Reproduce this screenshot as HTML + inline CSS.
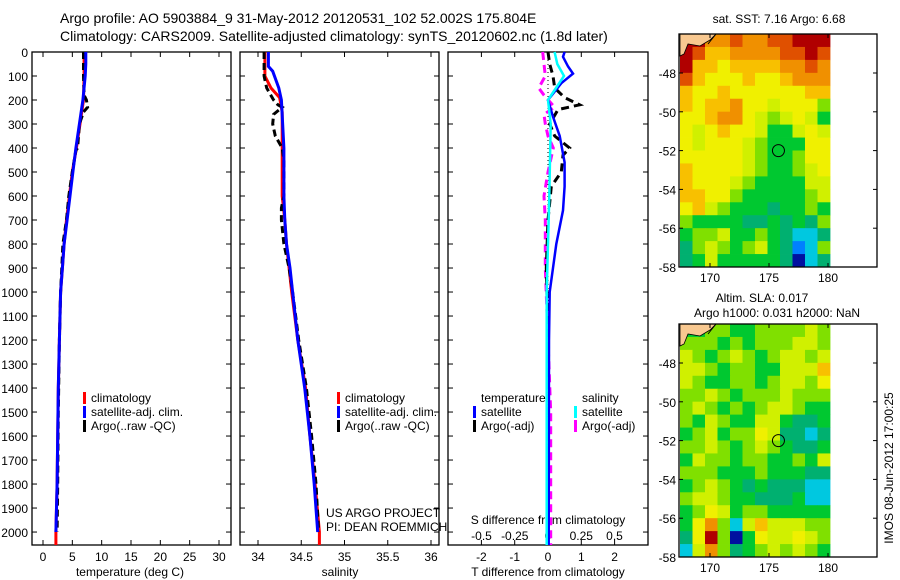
<!DOCTYPE html>
<html><head><meta charset="utf-8"><style>
html,body{margin:0;padding:0;background:#fff;}
svg{display:block;font-family:"Liberation Sans",sans-serif;}
</style></head><body>
<svg id="fig" width="900" height="580" viewBox="0 0 900 580">
<text x="60" y="23" font-size="14">Argo profile: AO 5903884_9 31-May-2012 20120531_102 52.002S 175.804E</text>
<text x="60" y="41" font-size="14">Climatology: CARS2009. Satellite-adjusted climatology: synTS_20120602.nc (1.8d later)</text>
</svg>
<script>
// ---------- data ----------
const tempClimDepth=[0,100,200,300,400,500,600,700,800,900,1000,1200,1400,1600,1800,2000,2054];
const tempClim=[7.0,7.0,6.9,6.3,5.7,5.0,4.5,4.0,3.6,3.3,3.0,2.8,2.6,2.5,2.4,2.2,2.2];
const tempSatDepth=[0,50,100,200,300,400,500,600,700,800,900,1000,1200,1400,1600,1800,2000];
const tempSat=[7.3,7.3,7.2,6.8,6.2,5.6,5.1,4.6,4.1,3.6,3.3,3.0,2.8,2.6,2.5,2.4,2.2];
const tempArgoDepth=[0,100,180,200,230,250,300,400,410,500,600,700,800,900,1000,1200,1500,1800,2000];
const tempArgo=[6.9,6.9,7.0,7.4,7.6,6.9,6.2,5.9,5.6,5.0,4.4,4.0,3.4,3.2,3.0,2.8,2.6,2.5,2.4];
const salClimDepth=[0,100,150,190,250,400,600,700,800,900,1000,1200,1400,1600,1800,2000,2054];
const salClim=[34.08,34.08,34.15,34.25,34.28,34.28,34.28,34.31,34.33,34.36,34.39,34.46,34.55,34.60,34.66,34.71,34.71];
const salSatDepth=[0,60,80,150,200,400,600,700,800,900,1000,1200,1400,1600,1800,2000];
const salSat=[34.12,34.12,34.17,34.24,34.27,34.30,34.30,34.31,34.33,34.37,34.40,34.46,34.54,34.60,34.65,34.69];
const salArgoDepth=[0,100,150,200,220,230,260,300,350,400,450,600,650,700,800,900,1000,1200,1400,1600,1800,2000];
const salArgo=[34.07,34.07,34.10,34.18,34.23,34.28,34.18,34.17,34.20,34.28,34.30,34.30,34.27,34.27,34.30,34.36,34.40,34.47,34.56,34.62,34.67,34.70];
const dTSatDepth=[0,20,60,90,130,200,270,350,460,560,660,800,900,1000,1200,2054];
const dTSat=[0.5,0.45,0.6,0.75,0.4,0.0,0.15,0.35,0.5,0.5,0.45,0.25,0.15,0.05,0.03,0.02];
const dTArgoDepth=[0,50,100,150,190,220,240,300,350,400,430,500,560,700,900,1200,2054];
const dTArgo=[0,0.05,0.15,0.2,0.5,0.95,0.3,0.05,0.2,0.65,0.45,0.4,0.1,0.0,-0.05,0,0];
const dSSatDepth=[0,50,100,150,200,300,600,1000,2054];
const dSSat=[0.05,0.07,0.12,0.06,0.0,0.02,0.01,-0.01,-0.01];
const dSArgoDepth=[0,50,100,150,180,230,260,300,350,400,500,600,700,900,1500,2054];
const dSArgo=[-0.04,-0.03,-0.02,-0.07,-0.03,0.05,-0.03,-0.02,0.0,0.04,0.0,-0.03,-0.02,-0.02,0.02,0.02];
const depthTicks=[0,100,200,300,400,500,600,700,800,900,1000,1100,1200,1300,1400,1500,1600,1700,1800,1900,2000];
const tempTicks=[0,5,10,15,20,25,30];
const salTicks=[34,34.5,35,35.5,36];
const salTickLabels=["34","34.5","35","35.5","36"];
const dTTicks=[-2,-1,0,1,2];
const dSTicks=[-0.5,-0.25,0,0.25,0.5];
const dSTickLabels=["-0.5","-0.25","0","0.25","0.5"];
const lonTicks=[170,175,180];
const latTicks=[-48,-50,-52,-54,-56,-58];
// map colour index grids (12 cols x 18 rows)
const sstGrid=[
[11,11,9,9,10,9,9,10,10,11,11,11],[11,10,8,8,9,9,9,9,10,10,11,10],[11,8,8,7,8,8,8,8,9,9,10,9],
[10,8,7,7,7,8,7,7,8,9,9,9],[8,7,7,8,7,7,7,7,7,7,8,8],[8,7,8,8,9,7,7,6,7,7,7,5],
[7,7,8,9,9,7,6,5,6,7,6,4],[7,6,7,8,7,7,6,4,4,6,7,6],[7,6,7,7,7,6,5,4,4,4,7,7],
[7,7,7,7,7,6,5,4,4,5,7,7],[8,7,7,7,7,6,5,4,4,5,6,7],[8,7,7,7,6,5,4,4,4,4,6,6],
[8,8,7,7,5,4,4,4,4,4,5,6],[7,8,6,5,4,4,4,3,4,4,5,4],[5,4,4,4,4,3,3,4,3,4,3,5],
[4,5,5,6,4,4,5,4,3,2,2,3],[3,5,6,5,4,5,6,4,3,1,2,5],[3,4,6,4,4,4,4,4,3,0,2,3]];
const slaGrid=[
[4,4,5,5,4,4,5,5,5,5,6,5],[5,5,5,4,5,4,5,5,5,6,6,5],[6,5,4,5,6,5,4,5,6,6,5,6],
[6,6,5,4,5,5,4,4,6,6,6,8],[6,5,4,4,5,5,4,5,6,6,5,7],[5,5,6,5,4,5,5,5,6,5,5,5],
[5,6,5,4,5,4,5,6,6,5,4,4],[5,4,6,5,4,4,6,6,4,3,3,4],[4,5,6,4,5,5,7,6,3,3,2,3],
[5,5,6,5,4,5,6,5,4,3,3,4],[4,6,5,5,4,5,5,4,4,5,4,6],[5,5,5,4,4,4,5,4,4,4,3,3],
[4,5,6,5,4,3,4,3,3,3,2,2],[5,6,6,5,4,4,3,3,3,4,2,2],[4,5,7,6,4,5,5,4,4,4,4,4],
[4,7,9,5,2,6,8,6,6,6,5,5],[3,7,11,5,0,4,7,6,6,7,6,5],[2,6,9,5,3,4,5,6,5,6,5,4]];
const palette=["#0010a0","#0080ff","#00c8e0","#00b070","#00c830","#80e000","#d0f000","#f0f000","#f8c000","#f09000","#e05000","#b00000"];
const argoLon=175.8, argoLat=-52.0;

// ---------- drawing ----------
const NS="http://www.w3.org/2000/svg";
const svg=document.getElementById('fig');
function mk(tag,attrs,parent){const e=document.createElementNS(NS,tag);for(const k in attrs)e.setAttribute(k,attrs[k]);(parent||svg).appendChild(e);return e;}
function txt(x,y,s,size,anchor,parent){const t=mk('text',{x:x,y:y,'font-size':size,'text-anchor':anchor||'start'},parent);t.textContent=s;return t;}
const Y0=52,Y1=545,D0=0,D1=2054;
function yD(d){return Y0+(d-D0)/(D1-D0)*(Y1-Y0);}
function panel(name,x0,x1){
  const g=mk('g',{});
  
  
  mk('rect',{x:x0,y:Y0,width:x1-x0,height:Y1-Y0,fill:'none',stroke:'#000','stroke-width':1.3},g);
  depthTicks.forEach(d=>{const y=yD(d);mk('line',{x1:x0,x2:x0+5,y1:y,y2:y,stroke:'#000'},g);mk('line',{x1:x1,x2:x1-5,y1:y,y2:y,stroke:'#000'},g);});
  return g;
}
function xTicks(g,vals,labels,sx,yb,yt,ly,size){
  vals.forEach((v,i)=>{const x=sx(v);mk('line',{x1:x,x2:x,y1:yb,y2:yb-5,stroke:'#000'},g);mk('line',{x1:x,x2:x,y1:yt,y2:yt+5,stroke:'#000'},g);
    if(labels)txt(x,ly,labels[i],size||12,'middle',g);});
}
function line(g,depths,vals,sx,color,w,dash,name){
  const pts=depths.map((d,i)=>sx(vals[i]).toFixed(1)+','+yD(d).toFixed(1)).join(' ');
  const p=mk('polyline',{points:pts,fill:'none',stroke:color,'stroke-width':w},g);
  if(dash)p.setAttribute('stroke-dasharray',dash);
  
  
}
function legendEntry(g,x,y,color,label){
  const e=mk('g',{},g);
  
  
  mk('rect',{x:x,y:y-10,width:3,height:12,fill:color},e);
  txt(x+8,y,label,12,'start',e);
}
// Panel 1 temperature
const g1=panel('temperature-panel',32,231);
const sxT=v=>43+v*(219-43)/30;
xTicks(g1,tempTicks,tempTicks.map(String),sxT,Y1,Y0,561);
depthTicks.forEach(d=>{const t=txt(28,yD(d)+5,String(d),12,'end',g1);});
line(g1,tempClimDepth,tempClim,sxT,'#f00',3,null,'temp-climatology-line');
line(g1,tempArgoDepth,tempArgo,sxT,'#000',3,'7,4','temp-argo-line');
line(g1,tempSatDepth,tempSat,sxT,'#00f',3,null,'temp-satellite-line');
txt(130,576,'temperature (deg C)',12,'middle',g1);
legendEntry(g1,83,402,'#f00','climatology');
legendEntry(g1,83,416,'#00f','satellite-adj. clim.');
legendEntry(g1,83,430,'#000','Argo(..raw -QC)');
// Panel 2 salinity
const g2=panel('salinity-panel',240,439);
const sxS=v=>258+(v-34)*(431-258)/2;
xTicks(g2,salTicks,salTickLabels,sxS,Y1,Y0,561);
line(g2,salClimDepth,salClim,sxS,'#f00',3,null,'sal-climatology-line');
line(g2,salArgoDepth,salArgo,sxS,'#000',3,'7,4','sal-argo-line');
line(g2,salSatDepth,salSat,sxS,'#00f',3,null,'sal-satellite-line');
txt(340,576,'salinity',12,'middle',g2);
legendEntry(g2,337,402,'#f00','climatology');
legendEntry(g2,337,416,'#00f','satellite-adj. clim.');
legendEntry(g2,337,430,'#000','Argo(..raw -QC)');
txt(326,517,'US ARGO PROJECT',12,'start',g2);
txt(326,531,'PI: DEAN ROEMMICH',12,'start',g2);
// Panel 3 differences
const g3=panel('difference-panel',448,648);
const sxDT=v=>548+v*33.3;
const sxDS=v=>548+v*133;
xTicks(g3,dTTicks,dTTicks.map(String),sxDT,Y1,Y0,561);
dSTicks.forEach((v,i)=>txt(sxDS(v),540,dSTickLabels[i],12,'middle',g3));
txt(548,524,'S difference from climatology',12,'middle',g3);
txt(548,576,'T difference from climatology',12,'middle',g3);
mk('line',{x1:548,x2:548,y1:Y0,y2:Y1,stroke:'#000','stroke-dasharray':'1,3'},g3);
line(g3,dSArgoDepth,dSArgo,sxDS,'#f0f',3,'8,5','sdiff-argo-line');
line(g3,dTArgoDepth,dTArgo,sxDT,'#000',3,'8,5','tdiff-argo-line');
line(g3,dTSatDepth,dTSat,sxDT,'#00f',2.5,null,'tdiff-satellite-line');
line(g3,dSSatDepth,dSSat,sxDS,'#0ff',2.5,null,'sdiff-satellite-line');
txt(481,402,'temperature',12,'start',g3);
txt(582,402,'salinity',12,'start',g3);
legendEntry(g3,473,416,'#00f','satellite');
legendEntry(g3,473,430,'#000','Argo(-adj)');
legendEntry(g3,574,416,'#0ff','satellite');
legendEntry(g3,574,430,'#f0f','Argo(-adj)');
// Maps
function map(name,top,grid){
  const g=mk('g',{});
  
  
  const L=679,R=877,B=top+233;
  const sx=lon=>710+(lon-170)*11.8;
  const sy=lat=>top+39+(-48-lat)*19.4;
  const rows=grid.length,cols=grid[0].length,cw=(830-680)/cols,ch=(B-top)/rows;
  grid.forEach((row,r)=>row.forEach((v,c)=>{
    const cell=mk('rect',{x:(680+c*cw).toFixed(2),y:(top+r*ch).toFixed(2),width:(cw+0.4).toFixed(2),height:(ch+0.4).toFixed(2),fill:palette[v]},g);
    
    
  }));
  mk('path',{d:`M680 ${top} L716 ${top} L710 ${top+6} L700 ${top+12} L688 ${top+10} L684 ${top+20} L680 ${top+22} Z`,fill:'#f8c890',stroke:'#000','stroke-width':0.8},g);
  mk('line',{x1:716,y1:top,x2:708,y2:top+10,stroke:'#000'},g);
  mk('rect',{x:L,y:top,width:R-L,height:B-top,fill:'none',stroke:'#000','stroke-width':1.3},g);
  lonTicks.forEach(v=>{const x=sx(v);mk('line',{x1:x,x2:x,y1:B,y2:B-4,stroke:'#000'},g);mk('line',{x1:x,x2:x,y1:top,y2:top+4,stroke:'#000'},g);txt(x,B+15,String(v),12,'middle',g);});
  latTicks.forEach(v=>{const y=sy(v);mk('line',{x1:L,x2:L+4,y1:y,y2:y,stroke:'#000'},g);mk('line',{x1:R,x2:R-4,y1:y,y2:y,stroke:'#000'},g);txt(676,y+5,String(v),12,'end',g);});
  const c=mk('circle',{cx:sx(argoLon),cy:sy(argoLat),r:6,fill:'none',stroke:'#000'},g);
  
  
  return g;
}
map('sst-map',34,sstGrid);
txt(779,23,'sat. SST: 7.16 Argo: 6.68',12,'middle');
map('sla-map',324,slaGrid);
txt(762,302,'Altim. SLA: 0.017',12,'middle');
txt(777,317,'Argo h1000: 0.031 h2000: NaN',12,'middle');
const st=txt(0,0,'IMOS 08-Jun-2012 17:00:25',12,'middle');
st.setAttribute('transform','translate(893,468) rotate(-90)');


</script>
</body></html>
